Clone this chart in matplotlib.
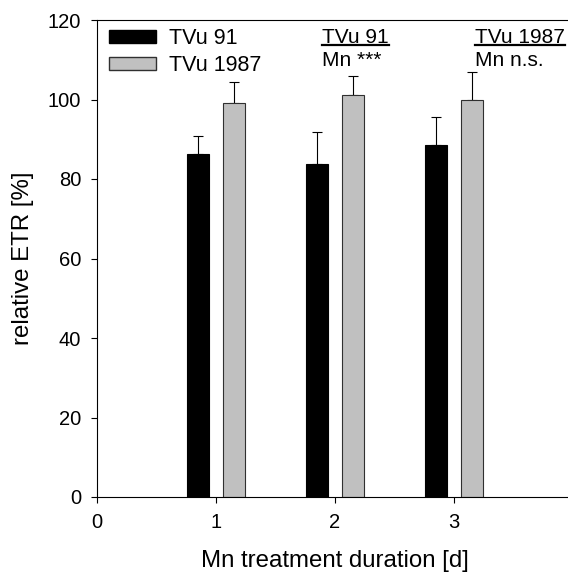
import numpy as np
import matplotlib
matplotlib.use("Agg")
import matplotlib.pyplot as plt
from matplotlib.patches import Patch

plt.rcParams['font.family'] = ['Liberation Sans', 'DejaVu Sans']

# datos
dias = [1, 2, 3]
etr_tvu91 = [86.4, 83.7, 88.6]
err_tvu91 = [4.3, 8.0, 6.9]
etr_tvu1987 = [99.2, 101.1, 99.8]
err_tvu1987 = [5.3, 4.7, 7.1]
etiquetas = ["TVu 91", "TVu 1987"]

W, H = 568, 576
fig = plt.figure(figsize=(W / 100, H / 100), dpi=100)
ax = fig.add_axes([97 / W, (576 - 497) / H, 476 / W, 477 / H])

x = np.array(dias)
ancho = 0.18
ax.bar(x - 0.15, etr_tvu91, ancho, color="black", edgecolor="black", linewidth=0.8, zorder=2)
ax.bar(x + 0.15, etr_tvu1987, ancho, color="#c0c0c0", edgecolor="#303030", linewidth=0.8, zorder=2)
ax.errorbar(x - 0.15, etr_tvu91, yerr=[np.zeros(3), err_tvu91], fmt="none",
            ecolor="black", elinewidth=0.8, capsize=3.6, capthick=0.8, zorder=1)
ax.errorbar(x + 0.15, etr_tvu1987, yerr=[np.zeros(3), err_tvu1987], fmt="none",
            ecolor="black", elinewidth=0.8, capsize=3.6, capthick=0.8, zorder=1)

ax.set_xlim(0, 4)
ax.set_ylim(0, 120)
ax.set_xticks([0, 1, 2, 3])
ax.set_yticks(range(0, 121, 20))
ax.tick_params(direction="out", length=4.5, width=0.8, labelsize=14.5, pad=7)
for s in ax.spines.values():
    s.set_linewidth(0.8)

ax.set_xlabel("Mn treatment duration [d]", fontsize=17.3, labelpad=13)
ax.set_ylabel("relative ETR [%]", fontsize=17.3, labelpad=10)

handles = [Patch(facecolor="black", edgecolor="black"),
           Patch(facecolor="#c0c0c0", edgecolor="#303030")]
ax.legend(handles, etiquetas, loc="upper left", bbox_to_anchor=(-0.0025, 1.01),
          frameon=False, fontsize=15.5, handlelength=2.19, handleheight=0.51,
          handletextpad=0.6, labelspacing=0.28, borderaxespad=0.2)

# anotaciones subrayadas
fig.canvas.draw()
r = fig.canvas.get_renderer()
for xp, titulo, sub in [(322, "TVu 91", "Mn ***"), (475, "TVu 1987", "Mn n.s.")]:
    t = fig.text(xp / W, 1 - 43 / H, titulo, fontsize=15, ha="left", va="baseline")
    fig.text(xp / W, 1 - 66 / H, sub, fontsize=15, ha="left", va="baseline")
    bb = t.get_window_extent(r)
    fig.add_artist(plt.Line2D([bb.x0 / W, bb.x1 / W], [1 - 45 / H, 1 - 45 / H],
                              color="black", linewidth=1.6, transform=fig.transFigure))

fig.savefig("out.png", dpi=100)
